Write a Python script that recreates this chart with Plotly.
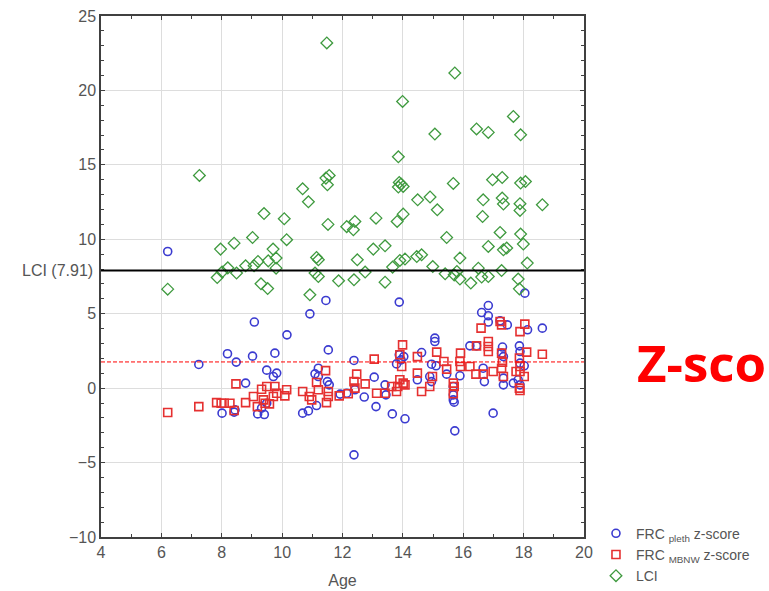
import plotly.graph_objects as go

# ---- data ----
lci_age = [11.48, 7.26, 11.45, 11.56, 11.5, 10.68, 10.87, 9.4, 10.07, 11.52, 12.14, 9.02, 10.15, 8.41, 7.96,
           9.7, 11.14, 11.2, 9.8, 9.54, 9.2, 9.07, 8.79, 8.2, 8.01, 7.85, 8.49, 9.8, 11.09, 11.2, 11.87, 9.3,
           9.52, 6.21, 10.92,
           15.72, 13.99, 17.66, 16.44, 16.83, 17.9, 15.06, 13.85, 13.88, 14.01, 13.85, 13.94, 15.67, 16.97,
           17.29, 17.9, 18.06, 14.49, 14.9, 15.14, 16.66, 17.29, 17.33, 17.88, 17.88, 18.62, 16.64, 14.01,
           13.81, 13.11, 12.36, 12.41, 15.45, 17.22, 17.9, 17.99, 13.02, 13.41, 16.83, 17.33, 17.44, 12.49,
           12.75, 13.66, 13.9, 14.07, 14.46, 14.62, 14.99, 15.89, 15.4, 15.7, 15.79, 15.89, 16.5, 16.61,
           16.83, 17.27, 18.12, 12.38, 13.41, 16.25, 17.82, 17.86]
lci_val = [23.19, 14.29, 14.11, 14.29, 13.66, 13.39, 12.52, 11.73, 11.38, 11.0, 10.85, 10.12, 9.97, 9.74, 9.34,
           9.34, 8.78, 8.62, 8.74, 8.55, 8.51, 8.22, 8.22, 8.08, 7.8, 7.43, 7.73, 8.06, 7.73, 7.5, 7.21, 7.01,
           6.69, 6.65, 6.27,
           21.17, 19.26, 18.25, 17.41, 17.18, 17.02, 17.07, 15.54, 13.82, 13.55, 13.51, 13.71, 13.75, 14.0,
           14.15, 13.78, 13.88, 12.65, 12.84, 11.98, 12.65, 12.77, 12.37, 12.39, 11.94, 12.32, 11.53, 11.69,
           11.2, 11.42, 10.64, 11.2, 10.12, 10.46, 10.35, 9.68, 9.34, 9.56, 9.52, 9.29, 9.41, 8.62,
           7.8, 8.13, 8.58, 8.67, 8.84, 8.96, 8.17, 8.74, 7.68, 7.61, 7.84, 7.33, 8.06, 7.46,
           7.5, 7.9, 8.4, 7.28, 7.12, 7.06, 7.33, 6.67]

pleth_age = [6.21, 11.45, 10.92, 9.08, 10.16, 11.53, 8.19, 9.02, 9.76, 8.48, 7.24, 9.49, 9.82, 9.71, 11.2,
             11.09, 11.2, 8.79, 11.5, 11.56, 11.92, 12.14, 11.14, 10.87, 10.68, 8.01, 8.41, 9.19, 9.41, 9.32,
             9.49, 8.44,
             13.88, 18.04, 16.83, 16.61, 16.83, 16.83, 17.22, 17.46, 18.13, 18.62, 15.06, 15.06, 14.62, 16.22,
             16.44, 17.3, 17.86, 17.88, 17.27, 17.33, 12.38, 13.88, 14.03, 13.79, 13.94, 14.95, 15.1, 15.45,
             15.89, 16.66, 16.7, 17.33, 17.33, 17.66, 17.82, 17.88, 18.02, 17.88, 13.05, 13.41, 13.44, 12.72,
             13.11, 13.65, 14.07, 14.48, 14.89, 14.95, 15.67, 15.67, 15.67, 15.7, 15.72, 16.99, 12.38, 12.41]
pleth_z = [9.18, 5.89, 4.99, 4.44, 3.58, 2.57, 2.31, 2.15, 2.35, 1.75, 1.59, 1.21, 1.01, 0.78, 1.34,
           0.96, 0.78, 0.34, 0.44, 0.22, -0.40, -0.34, -1.17, -1.53, -1.68, -1.68, -1.61, -1.73, -1.77, -1.34,
           -1.01, -1.46,
           5.78, 6.38, 5.55, 5.08, 4.86, 4.44, 4.52, 4.25, 3.92, 4.03, 3.36, 3.13, 2.39, 2.84,
           2.84, 2.76, 2.84, 2.46, 2.35, 2.12, 1.86, 2.24, 2.12, 1.63, 1.9, 1.61, 1.5, 0.94,
           0.83, 1.34, 0.44, 0.67, 0.22, 0.34, 0.56, 0.22, 1.5, 1.68, 0.74, 0.22, -0.45, -0.6,
           -1.24, -1.73, -2.06, 0.56, 0.78, 0.44, 0.11, -0.45, -0.79, -0.94, -2.87, -1.68, -4.48, -0.11]

mbnw_age = [6.21, 7.24, 7.83, 7.98, 8.08, 8.27, 8.41, 8.47, 8.79, 9.05, 9.18, 9.38, 9.44, 9.58, 9.32, 9.49,
            9.76, 9.82, 9.71, 10.15, 10.09, 10.68, 10.9, 10.98, 11.14, 11.2, 11.44, 11.53, 11.53, 11.47,
            11.89, 12.19,
            12.38, 12.47, 12.41, 12.75, 13.05, 13.13, 13.41, 13.63, 13.79, 13.83, 13.99, 13.9, 13.96, 13.9,
            14.01, 14.07, 14.48, 14.48, 14.62, 14.89, 14.98, 15.12, 15.36, 15.45, 15.67, 15.7, 15.67, 15.91,
            15.89, 15.91, 16.22, 16.42, 16.66, 16.44, 16.59, 16.83, 16.83, 16.83, 16.99, 17.22, 17.27, 17.27,
            17.3, 17.27, 17.33, 17.75, 17.86, 17.88, 17.88, 17.86, 17.88, 18.04, 17.88, 18.1, 18.02, 18.62]
mbnw_z = [-1.64, -1.24, -0.97, -1.01, -1.01, -1.01, -1.5, 0.29, -0.97, -0.56, -1.24, -0.79, -1.01, -1.06, -0.07,
          0.11, 0.11, -0.34, -0.56, -0.11, -0.52, -0.23, -0.56, -0.79, 0.38, -0.11, 1.18, -0.23, -0.56, -0.97,
          -0.52, -0.38,
          0.44, 0.94, 0.0, 0.29, 1.95, -0.34, -0.34, 0.11, -0.23, 0.11, 2.91, 2.24, 1.45, 0.56,
          0.34, 0.22, 2.12, 1.01, -0.23, 0.11, 0.78, 2.42, 1.79, 1.28, 0.34, 0.11, -0.38, 2.35,
          1.79, 1.45, 1.45, 0.94, 0.94, 2.84, 4.03, 3.13, 2.8, 2.46, 1.12, 4.48, 4.25, 2.35,
          1.75, 1.34, 0.78, 1.12, 2.02, 1.45, 1.12, 0.0, -0.16, 4.3, 3.8, 2.42, 0.78, 2.28]

LCI_ULN = 7.91
Z_ULN = 1.76
x_ticks = [4, 6, 8, 10, 12, 14, 16, 18, 20]
y_ticks = [-10, -5, 0, 5, 10, 15, 20, 25]

BLUE = "#3b3bd0"
RED = "#e53030"
GREEN = "#3f9a3f"
LBL = "#555555"
FONT = "Liberation Sans, Arial, sans-serif"

fig = go.Figure()
fig.add_trace(go.Scatter(x=pleth_age, y=pleth_z, mode="markers", name="FRC <sub>pleth</sub> z-score",
                         marker=dict(symbol="circle-open", size=8, color=BLUE, line=dict(width=1.6))))
fig.add_trace(go.Scatter(x=mbnw_age, y=mbnw_z, mode="markers", name="FRC <sub>MBNW</sub> z-score",
                         marker=dict(symbol="square-open", size=8, color=RED, line=dict(width=1.6))))
fig.add_trace(go.Scatter(x=lci_age, y=lci_val, mode="markers", name="LCI",
                         marker=dict(symbol="diamond-open", size=9, color=GREEN, line=dict(width=1.3))))

fig.add_hline(y=LCI_ULN, line=dict(color="black", width=2))
fig.add_hline(y=Z_ULN, line=dict(color="#ff0000", width=1, dash="4px,2px"))

fig.add_annotation(xref="paper", x=0, xanchor="right", xshift=-6, y=LCI_ULN, yref="y",
                   text="LCI (7.91)", showarrow=False, font=dict(family=FONT, size=16, color=LBL))
fig.add_annotation(xref="paper", x=1.106, xanchor="left", y=Z_ULN, yref="y", yanchor="middle",
                   text="<b>Z-sco</b>", showarrow=False,
                   font=dict(family="Open Sans, sans-serif", size=51, color="#ff0000"))

axis_common = dict(showline=True, linecolor="#404040", linewidth=1.5, mirror="allticks",
                   ticks="inside", ticklen=4, tickcolor="#404040", showgrid=True,
                   gridcolor="#dddddd", gridwidth=1, zeroline=False,
                   tickfont=dict(family=FONT, size=16, color=LBL))

fig.update_xaxes(range=[4, 20], tickvals=x_ticks, **axis_common,
                 minor=dict(dtick=1, ticks="inside", ticklen=3, tickcolor="#404040", showgrid=False),
                 title=dict(text="Age", font=dict(family=FONT, size=16, color=LBL), standoff=15))
fig.update_yaxes(range=[-10, 25], tickvals=y_ticks, **axis_common,
                 minor=dict(dtick=1, ticks="inside", ticklen=3, tickcolor="#404040", showgrid=False))

fig.update_layout(width=769, height=591, margin=dict(l=101, r=185, t=16, b=54, autoexpand=False),
                  paper_bgcolor="white", plot_bgcolor="white",
                  legend=dict(xref="container", yref="container", x=0.775, y=0.124,
                              xanchor="left", yanchor="top",
                              font=dict(family=FONT, size=14, color=LBL), tracegroupgap=0,
                              bgcolor="rgba(0,0,0,0)"),
                  showlegend=True)

fig.write_html("out.html")
